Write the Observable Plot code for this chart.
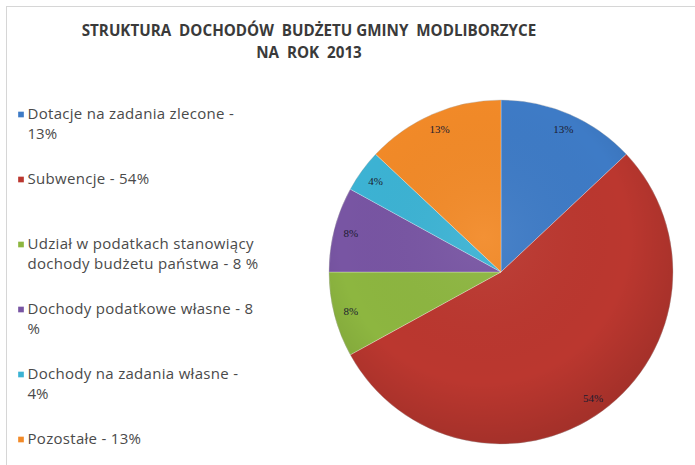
<!DOCTYPE html>
<html><head><meta charset="utf-8">
<script src="https://cdn.jsdelivr.net/npm/d3@7"></script>
<script src="https://cdn.jsdelivr.net/npm/@observablehq/plot@0.6"></script>
<style>
html,body{margin:0;padding:0;background:#fff;overflow:hidden}
#wrap{position:relative;width:695px;height:465px;overflow:hidden;background:#fff}
#frame{position:absolute;left:6px;top:6px;width:720px;height:490px;border:1px solid #d6d6d6}
#chart{position:absolute;left:0;top:0}
#title{position:absolute;left:0;width:618px;top:19px;text-align:center;font-family:"Open Sans",sans-serif;font-weight:bold;font-size:15.2px;color:#3a3a3a;white-space:pre;line-height:22px}
</style></head><body>
<div id="wrap"><div id="frame"></div><div id="chart"></div><div id="title"></div></div>
<script>
const titleLines = ["STRUKTURA  DOCHODÓW  BUDŻETU GMINY  MODLIBORZYCE", "NA  ROK  2013"];
const categories = ["Dotacje na zadania zlecone", "Subwencje", "Udział w podatkach stanowiący dochody budżetu państwa", "Dochody podatkowe własne", "Dochody na zadania własne", "Pozostałe"];
const values = [13, 54, 8, 8, 4, 13];
const sliceLabels = ["13%", "54%", "8%", "8%", "4%", "13%"];
const legendLines = [
  ["Dotacje na zadania zlecone -", "13%"],
  ["Subwencje - 54%"],
  ["Udział w podatkach stanowiący", "dochody budżetu państwa - 8 %"],
  ["Dochody podatkowe własne - 8", "%"],
  ["Dochody na zadania własne -", "4%"],
  ["Pozostałe - 13%"]
];
const colors = ["#3e7bc6", "#bb372f", "#8db640", "#7855a3", "#3cb3d4", "#f28a28"];

document.getElementById("title").textContent = titleLines.join("\n");

// layout (pixels)
const W = 695, H = 465;
const cx = 501, cy = 272, R = 172;
const legendX = 20.5, legendTextX = 27, legendY0 = 114, legendStep = 65, lineStep = 20;

const data = categories.map((c, i) => ({category: c, value: values[i], label: sliceLabels[i]}));
const arcs = d3.pie().sort(null).value(d => d.value)(data);
const labelData = arcs.map(a => {
  const m = (a.startAngle + a.endAngle) / 2;
  return {label: a.data.label, x: cx + 0.905 * R * Math.sin(m), y: cy - 0.905 * R * Math.cos(m)};
});
const legendMarks = categories.map((c, i) => ({category: c, x: legendX, y: legendY0 + i * legendStep}));
const legendText = legendLines.flatMap((lines, i) => lines.map((t, j) => ({text: t, x: legendTextX, y: legendY0 + i * legendStep + j * lineStep})));

function pie(index, scales, values, dims) {
  const sx = scales.x, sy = scales.y, col = scales.color;
  const g = d3.create("svg:g");
  const defs = g.append("defs");
  const rg = defs.append("radialGradient").attr("id", "shade").attr("cx", "45%").attr("cy", "40%").attr("r", "60%");
  rg.append("stop").attr("offset", "0%").attr("stop-color", "#fff").attr("stop-opacity", 0.06);
  rg.append("stop").attr("offset", "70%").attr("stop-color", "#000").attr("stop-opacity", 0);
  rg.append("stop").attr("offset", "100%").attr("stop-color", "#000").attr("stop-opacity", 0.12);
  const ox = sx(cx), oy = sy(cy), r = sx(cx + R) - sx(cx);
  const arc = d3.arc().innerRadius(0).outerRadius(r);
  const gg = g.append("g").attr("transform", `translate(${ox},${oy})`);
  gg.selectAll("path").data(arcs).join("path")
    .attr("d", arc)
    .attr("fill", d => col(d.data.category))
    .attr("stroke", "rgba(255,255,255,0.35)")
    .attr("stroke-width", 0.8);
  gg.append("circle").attr("r", r).attr("fill", "url(#shade)").attr("stroke", "rgba(0,0,0,0.12)").attr("stroke-width", 1);
  return g.node();
}

const chart = Plot.plot({
  width: W, height: H,
  margin: 0,
  x: {domain: [0, W], range: [0, W], axis: null},
  y: {domain: [0, H], range: [0, H], axis: null},
  color: {domain: categories, range: colors},
  style: {background: "transparent", overflow: "visible"},
  marks: [
    pie,
    Plot.text(labelData, {x: "x", y: "y", text: "label", fontFamily: "Liberation Serif, serif", fontSize: 11, fill: "#1c1c30"}),
    Plot.dot(legendMarks, {x: "x", y: "y", fill: "category", symbol: "square", r: 3.2, stroke: "none"}),
    Plot.text(legendText, {x: "x", y: "y", text: "text", textAnchor: "start", fontFamily: "Open Sans, sans-serif", fontSize: 15, fill: "#4a4a4a", style: "letter-spacing:0.3px"})
  ]
});
chart.querySelectorAll("text").forEach(t => { if (t.textContent.length > 4) t.style.letterSpacing = "0.3px"; });
document.getElementById("chart").appendChild(chart);
</script>
</body></html>
